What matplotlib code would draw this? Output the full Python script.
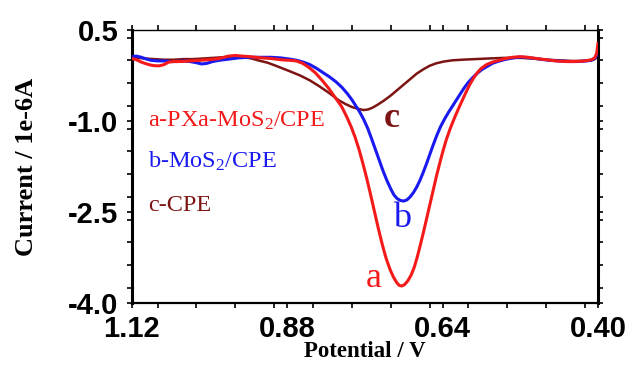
import matplotlib
matplotlib.use("Agg")
import matplotlib.pyplot as plt
from matplotlib.ticker import MultipleLocator, FixedLocator

plt.rcParams['mathtext.fontset'] = 'custom'
plt.rcParams['mathtext.rm'] = 'Liberation Serif'
plt.rcParams['mathtext.it'] = 'Liberation Serif:italic'
plt.rcParams['mathtext.bf'] = 'Liberation Serif:bold'

# ---- data (Potential / V, Current / 1e-6 A) ----
va = [1.12, 1.113, 1.105, 1.097, 1.09, 1.083, 1.077, 1.07, 1.063, 1.055, 1.045, 1.03, 1.015, 1.0,
      0.985, 0.97, 0.96, 0.95, 0.937, 0.92, 0.905, 0.89, 0.876, 0.866, 0.856, 0.846, 0.836, 0.826,
      0.816, 0.806, 0.796, 0.788, 0.781, 0.775, 0.769, 0.763, 0.757, 0.751, 0.745, 0.739, 0.733,
      0.727, 0.721, 0.716, 0.711, 0.707, 0.703, 0.699, 0.694, 0.689, 0.684, 0.679, 0.674, 0.669,
      0.664, 0.659, 0.654, 0.649, 0.644, 0.639, 0.634, 0.628, 0.622, 0.616, 0.610, 0.604, 0.598,
      0.592, 0.586, 0.58, 0.572, 0.563, 0.553, 0.543, 0.532, 0.52, 0.508, 0.495, 0.48, 0.465, 0.45,
      0.435, 0.42, 0.41, 0.405, 0.402, 0.400]
ia = [0.03, 0.01, -0.03, -0.06, -0.08, -0.09, -0.09, -0.07, -0.03, -0.02, -0.02, -0.01, 0.0, 0.01,
      0.03, 0.07, 0.08, 0.07, 0.06, 0.04, 0.03, 0.01, 0.0, -0.01, -0.05, -0.12, -0.21, -0.33,
      -0.46, -0.61, -0.76, -0.93, -1.10, -1.27, -1.47, -1.70, -1.95, -2.22, -2.50, -2.78, -3.04,
      -3.27, -3.45, -3.57, -3.66, -3.71, -3.72, -3.70, -3.64, -3.55, -3.42, -3.24, -3.03, -2.81,
      -2.58, -2.35, -2.12, -1.89, -1.68, -1.48, -1.30, -1.12, -0.96, -0.81, -0.67, -0.53, -0.40,
      -0.29, -0.20, -0.13, -0.07, -0.03, 0.0, 0.03, 0.05, 0.06, 0.05, 0.03, 0.01, -0.01, -0.02,
      -0.02, -0.01, 0.01, 0.04, 0.12, 0.28]

vb = [1.12, 1.113, 1.105, 1.097, 1.09, 1.08, 1.07, 1.06, 1.05, 1.04, 1.03, 1.02, 1.012, 1.004,
      0.995, 0.985, 0.97, 0.955, 0.94, 0.92, 0.905, 0.89, 0.876, 0.865, 0.855, 0.845, 0.835, 0.825,
      0.815, 0.805, 0.795, 0.787, 0.780, 0.774, 0.768, 0.762, 0.756, 0.750, 0.744, 0.738, 0.732,
      0.726, 0.720, 0.715, 0.710, 0.705, 0.700, 0.695, 0.690, 0.685, 0.680, 0.675, 0.670, 0.665,
      0.660, 0.655, 0.649, 0.643, 0.637, 0.631, 0.625, 0.619, 0.613, 0.607, 0.600, 0.593, 0.586,
      0.579, 0.571, 0.563, 0.555, 0.545, 0.536, 0.525, 0.515, 0.505, 0.49, 0.475, 0.46, 0.445,
      0.43, 0.418, 0.41, 0.405, 0.402, 0.400]
ib = [0.06, 0.07, 0.05, 0.02, 0.0, -0.01, -0.01, -0.02, -0.02, -0.01, -0.02, -0.04, -0.06, -0.05,
      -0.02, 0.0, 0.02, 0.04, 0.05, 0.05, 0.05, 0.04, 0.02, 0.0, -0.03, -0.07, -0.13, -0.20,
      -0.27, -0.35, -0.45, -0.55, -0.65, -0.75, -0.85, -0.97, -1.11, -1.28, -1.46, -1.64, -1.82,
      -1.98, -2.12, -2.22, -2.28, -2.31, -2.32, -2.30, -2.25, -2.18, -2.09, -1.98, -1.85, -1.71,
      -1.56, -1.41, -1.24, -1.09, -0.97, -0.86, -0.76, -0.66, -0.56, -0.46, -0.36, -0.28, -0.21,
      -0.15, -0.10, -0.05, -0.02, 0.01, 0.03, 0.05, 0.05, 0.04, 0.02, 0.0, -0.01, -0.02,
      -0.02, -0.01, 0.0, 0.03, 0.08, 0.16]

vc = [1.12, 1.11, 1.10, 1.085, 1.07, 1.055, 1.04, 1.025, 1.01, 0.995, 0.98, 0.968, 0.955, 0.945,
      0.935, 0.925, 0.91, 0.895, 0.876, 0.86, 0.845, 0.83, 0.815, 0.80, 0.79, 0.78, 0.77, 0.762,
      0.755, 0.748, 0.740, 0.730, 0.720, 0.710, 0.700, 0.690, 0.680, 0.670, 0.660, 0.650, 0.638,
      0.625, 0.61, 0.59, 0.57, 0.545, 0.52, 0.50, 0.48, 0.46, 0.44, 0.425, 0.412, 0.405, 0.402, 0.400]
ic = [0.05, 0.04, 0.03, 0.02, 0.01, 0.01, 0.02, 0.02, 0.03, 0.04, 0.05, 0.06, 0.06, 0.05,
      0.03, 0.0, -0.04, -0.10, -0.18, -0.25, -0.33, -0.43, -0.54, -0.66, -0.72, -0.77, -0.80, -0.82,
      -0.81, -0.78, -0.73, -0.66, -0.58, -0.49, -0.40, -0.31, -0.22, -0.15, -0.09, -0.05, -0.02,
      0.0, 0.01, 0.02, 0.03, 0.04, 0.04, 0.03, 0.01, 0.0, -0.01, -0.01, 0.0, 0.02, 0.05, 0.10]

series_labels = ["a-PXa-MoS$_2$/CPE", "b-MoS$_2$/CPE", "c-CPE"]
curve_letters = ["a", "b", "c"]
x_ticks = [1.12, 0.88, 0.64, 0.40]
y_ticks = [0.5, -1.0, -2.5, -4.0]

red = '#f41a1a'
blue = '#1a1af0'
brown = '#7d1414'

fig = plt.figure(figsize=(6.32, 3.67), dpi=100)
ax = fig.add_axes([0.2084, 0.1744, 0.9462 - 0.2084, 0.9183 - 0.1744])

ax.plot(vc, ic, color=brown, lw=1.8, zorder=2)
ax.plot(vb, ib, color=blue, lw=2.2, zorder=3)
ax.plot(va, ia, color=red, lw=2.2, zorder=4)

ax.set_xlim(1.12, 0.40)
ax.set_ylim(-4.0, 0.5)

ax.xaxis.set_major_locator(FixedLocator(x_ticks))
ax.xaxis.set_minor_locator(MultipleLocator(0.06))
ax.yaxis.set_major_locator(FixedLocator(y_ticks))
ax.yaxis.set_minor_locator(MultipleLocator(0.375))
ax.set_xticklabels([f"{v:.2f}" for v in x_ticks])
ax.set_yticklabels([f"{v:.1f}" for v in y_ticks])

ax.tick_params(which='both', direction='out', length=3.5, width=1.2,
               top=True, right=True, labeltop=False, labelright=False)
ax.tick_params(axis='x', which='major', pad=5)
ax.tick_params(axis='y', which='major', pad=6)
for lab in ax.get_xticklabels() + ax.get_yticklabels():
    lab.set_fontfamily('Liberation Sans')
    lab.set_fontweight('bold')
    lab.set_fontsize(21)

ax.spines['left'].set_linewidth(2.2)
ax.spines['right'].set_linewidth(2.2)
ax.spines['top'].set_linewidth(1.0)
ax.spines['bottom'].set_linewidth(1.6)

ax.set_xlabel("Potential / V", fontfamily='Liberation Serif', fontweight='bold', fontsize=16.5, labelpad=-1)
ax.set_ylabel("Current / 1e-6A", fontfamily='Liberation Serif', fontweight='bold', fontsize=19, labelpad=22)

lab_colors = [red, blue, brown]
lab_y = [-0.99, -1.66, -2.40]
for txt, col, yy in zip(series_labels, lab_colors, lab_y):
    ax.text(1.095, yy, txt, color=col, fontfamily='Liberation Serif', fontsize=17.5,
            ha='left', va='center')

ax.text(0.746, -3.59, curve_letters[0], color=red, fontfamily='Liberation Serif', fontsize=26,
        ha='center', va='center')
ax.text(0.703, -2.61, curve_letters[1], color=blue, fontfamily='Liberation Serif', fontsize=26,
        ha='center', va='center')
ax.text(0.718, -0.96, curve_letters[2], color=brown, fontfamily='Liberation Serif', fontsize=26,
        fontweight='bold', ha='center', va='center')

fig.savefig("out.png", dpi=100)
